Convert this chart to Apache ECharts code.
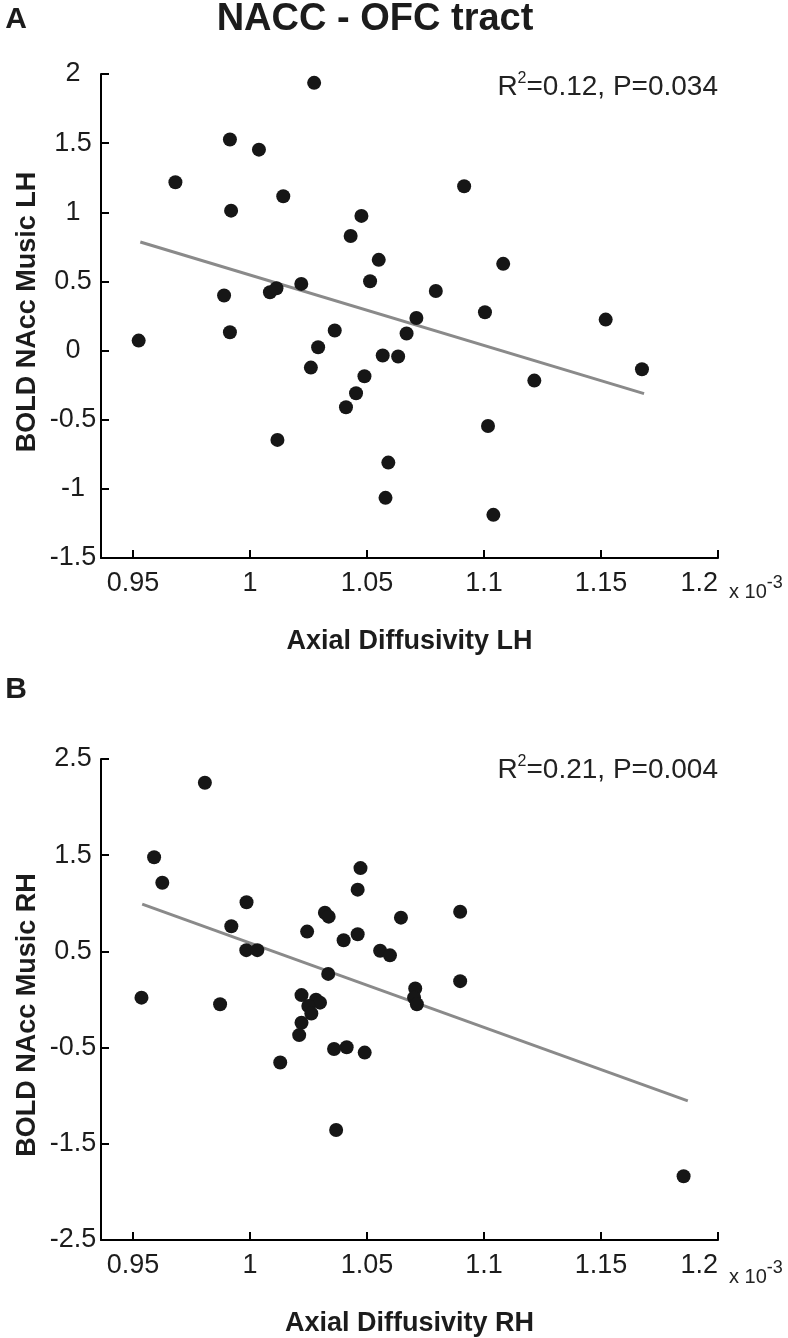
<!DOCTYPE html>
<html>
<head>
<meta charset="utf-8">
<script src="https://cdn.jsdelivr.net/npm/echarts@6/dist/echarts.min.js"></script>
<style>
html,body{margin:0;padding:0;background:#fff;}
#chart{width:788px;height:1338px;}
</style>
</head>
<body>
<div id="chart"></div>
<script>
// ---- Data (x in units of 10^-3) ----
var lhX = [1.0274, 0.9914, 1.0038, 0.9681, 1.0142, 0.9919, 1.0476, 1.0430, 1.0550, 1.0513,
           1.0794, 0.9889, 1.0085, 1.0113, 1.0219, 1.0711, 1.0669, 0.9524, 0.9914, 1.0362,
           1.0291, 1.0567, 1.0633, 1.0915, 1.1082, 1.1004, 1.1520, 1.0260, 1.0489, 1.0453,
           1.0410, 1.0117, 1.0591, 1.0579, 1.1215, 1.1675, 1.1017, 1.1040];
var lhY = [1.936, 1.526, 1.453, 1.217, 1.116, 1.012, 0.974, 0.829, 0.656, 0.501,
           0.431, 0.398, 0.422, 0.451, 0.482, 0.236, 0.123, 0.072, 0.132, 0.145,
           0.024, -0.036, -0.043, 1.188, 0.627, 0.277, 0.224, -0.123, -0.186, -0.309,
           -0.410, -0.646, -0.810, -1.065, -0.217, -0.135, -0.545, -1.188];
var rhX = [0.9807, 0.9590, 0.9625, 0.9985, 0.9920, 0.9984, 1.0031, 0.9536, 0.9872, 1.0472,
           1.0460, 1.0320, 1.0336, 1.0645, 1.0244, 1.0400, 1.0460, 1.0556, 1.0598, 1.0334,
           1.0706, 1.0701, 1.0713, 1.0220, 1.0282, 1.0299, 1.0249, 1.0262, 1.0220, 1.0210,
           1.0898, 1.0898, 1.0129, 1.0359, 1.0413, 1.0490, 1.0368, 1.1853];
var rhY = [2.253, 1.479, 1.214, 1.011, 0.761, 0.513, 0.513, 0.019, -0.050, 1.366,
           1.142, 0.902, 0.861, 0.851, 0.706, 0.616, 0.678, 0.506, 0.459, 0.266,
           0.114, 0.019, -0.050, 0.046, -0.002, -0.033, -0.067, -0.146, -0.242, -0.370,
           0.912, 0.191, -0.655, -0.514, -0.497, -0.552, -1.356, -1.837];
// fitted regression line endpoints
var lhFitX = [0.9531, 1.1684];
var lhFitY = [0.785, -0.311];
var rhFitX = [0.9539, 1.1871];
var rhFitY = [0.991, -1.054];
// axis ticks
var xTicks = [0.95, 1, 1.05, 1.1, 1.15, 1.2];
var lhYTicks = [-1.5, -1, -0.5, 0, 0.5, 1, 1.5, 2];
var rhYTicks = [-2.5, -1.5, -0.5, 0.5, 1.5, 2.5];
// texts
var mainTitle = 'NACC - OFC tract';
var lhStat = ['0.12', '0.034'];
var rhStat = ['0.21', '0.004'];
var lhXName = 'Axial Diffusivity LH', rhXName = 'Axial Diffusivity RH';
var lhYName = 'BOLD NAcc Music LH', rhYName = 'BOLD NAcc Music RH';

function zip(a, b) { return a.map(function (v, i) { return [v, b[i]]; }); }

var FONT = '"Liberation Sans", Arial, Helvetica, sans-serif';
var TXT = '#1c1c1c';

function xAxis(gridIndex, name) {
  return {
    type: 'value', gridIndex: gridIndex, min: 0.9363, max: 1.2,
    name: name, nameLocation: 'middle', nameGap: 70,
    nameTextStyle: { fontFamily: FONT, fontSize: 27, fontWeight: 'bold', color: TXT },
    axisLine: { show: true, onZero: false, lineStyle: { color: '#000', width: 2 } },
    axisTick: { show: true, inside: true, length: 8, lineStyle: { color: '#000', width: 2 }, customValues: xTicks },
    axisLabel: { show: true, margin: 12, fontFamily: FONT, fontSize: 27, color: TXT, customValues: xTicks,
                 alignMaxLabel: 'right' },
    splitLine: { show: false }
  };
}
function yAxis(gridIndex, min, max, interval) {
  return {
    type: 'value', gridIndex: gridIndex, min: min, max: max, interval: interval,
    axisLine: { show: true, onZero: false, lineStyle: { color: '#000', width: 2 } },
    axisTick: { show: true, inside: true, length: 8, lineStyle: { color: '#000', width: 2 } },
    axisLabel: { show: true, margin: 28, align: 'center', fontFamily: FONT, fontSize: 27, color: TXT },
    splitLine: { show: false }
  };
}
function statText(x, y, vals) {
  return {
    type: 'text', x: x, y: y,
    style: {
      text: '{a|R}{s|2}{a|=' + vals[0] + ', P=' + vals[1] + '}',
      textAlign: 'right', textVerticalAlign: 'middle',
      rich: {
        a: { fontFamily: FONT, fontSize: 28, fill: '#222', lineHeight: 30, verticalAlign: 'bottom' },
        s: { fontFamily: FONT, fontSize: 16, fill: '#222', lineHeight: 30, verticalAlign: 'top' }
      }
    }
  };
}
function expText(x, y) {
  return {
    type: 'text', x: x, y: y,
    style: {
      text: '{a|x 10}{s|-3}',
      textAlign: 'left', textVerticalAlign: 'middle',
      rich: {
        a: { fontFamily: FONT, fontSize: 20, fill: '#222', lineHeight: 28, verticalAlign: 'bottom' },
        s: { fontFamily: FONT, fontSize: 18, fill: '#222', lineHeight: 28, verticalAlign: 'top' }
      }
    }
  };
}
function yNameText(x, y, t) {
  return {
    type: 'text', x: x, y: y, rotation: Math.PI / 2,
    style: { text: t, fontFamily: FONT, fontSize: 27, fontWeight: 'bold', fill: TXT,
             textAlign: 'center', textVerticalAlign: 'middle' }
  };
}

var chart = echarts.init(document.getElementById('chart'), null, { renderer: 'canvas' });
chart.setOption({
  backgroundColor: '#ffffff',
  animation: false,
  grid: [
    { left: 101, width: 617, top: 74, height: 484 },
    { left: 101, width: 617, top: 759, height: 485 }
  ],
  xAxis: [xAxis(0, lhXName), xAxis(1, rhXName)],
  yAxis: [yAxis(0, -1.5, 2, 0.5), yAxis(1, -2.5, 2.5, 1)],
  series: [
    { type: 'line', xAxisIndex: 0, yAxisIndex: 0, data: zip(lhFitX, lhFitY), showSymbol: false, z: 1,
      lineStyle: { color: '#8a8a8a', width: 3 } },
    { type: 'scatter', xAxisIndex: 0, yAxisIndex: 0, data: zip(lhX, lhY), symbol: 'circle', symbolSize: 14, z: 3,
      itemStyle: { color: '#161616', opacity: 1 } },
    { type: 'line', xAxisIndex: 1, yAxisIndex: 1, data: zip(rhFitX, rhFitY), showSymbol: false, z: 1,
      lineStyle: { color: '#8a8a8a', width: 3 } },
    { type: 'scatter', xAxisIndex: 1, yAxisIndex: 1, data: zip(rhX, rhY), symbol: 'circle', symbolSize: 14, z: 3,
      itemStyle: { color: '#161616', opacity: 1 } }
  ],
  graphic: [
    { type: 'text', x: 375, y: 20, style: { text: mainTitle, fontFamily: FONT, fontSize: 38, fontWeight: 'bold', fill: TXT, textAlign: 'center', textVerticalAlign: 'middle' } },
    { type: 'text', x: 16, y: 20, style: { text: 'A', fontFamily: FONT, fontSize: 30, fontWeight: 'bold', fill: TXT, textAlign: 'center', textVerticalAlign: 'middle' } },
    { type: 'text', x: 16, y: 690, style: { text: 'B', fontFamily: FONT, fontSize: 30, fontWeight: 'bold', fill: TXT, textAlign: 'center', textVerticalAlign: 'middle' } },
    statText(718, 86, lhStat),
    statText(718, 769, rhStat),
    expText(729, 588),
    expText(729, 1273),
    yNameText(28, 312, lhYName),
    yNameText(28, 1015, rhYName)
  ]
});
</script>
</body>
</html>
